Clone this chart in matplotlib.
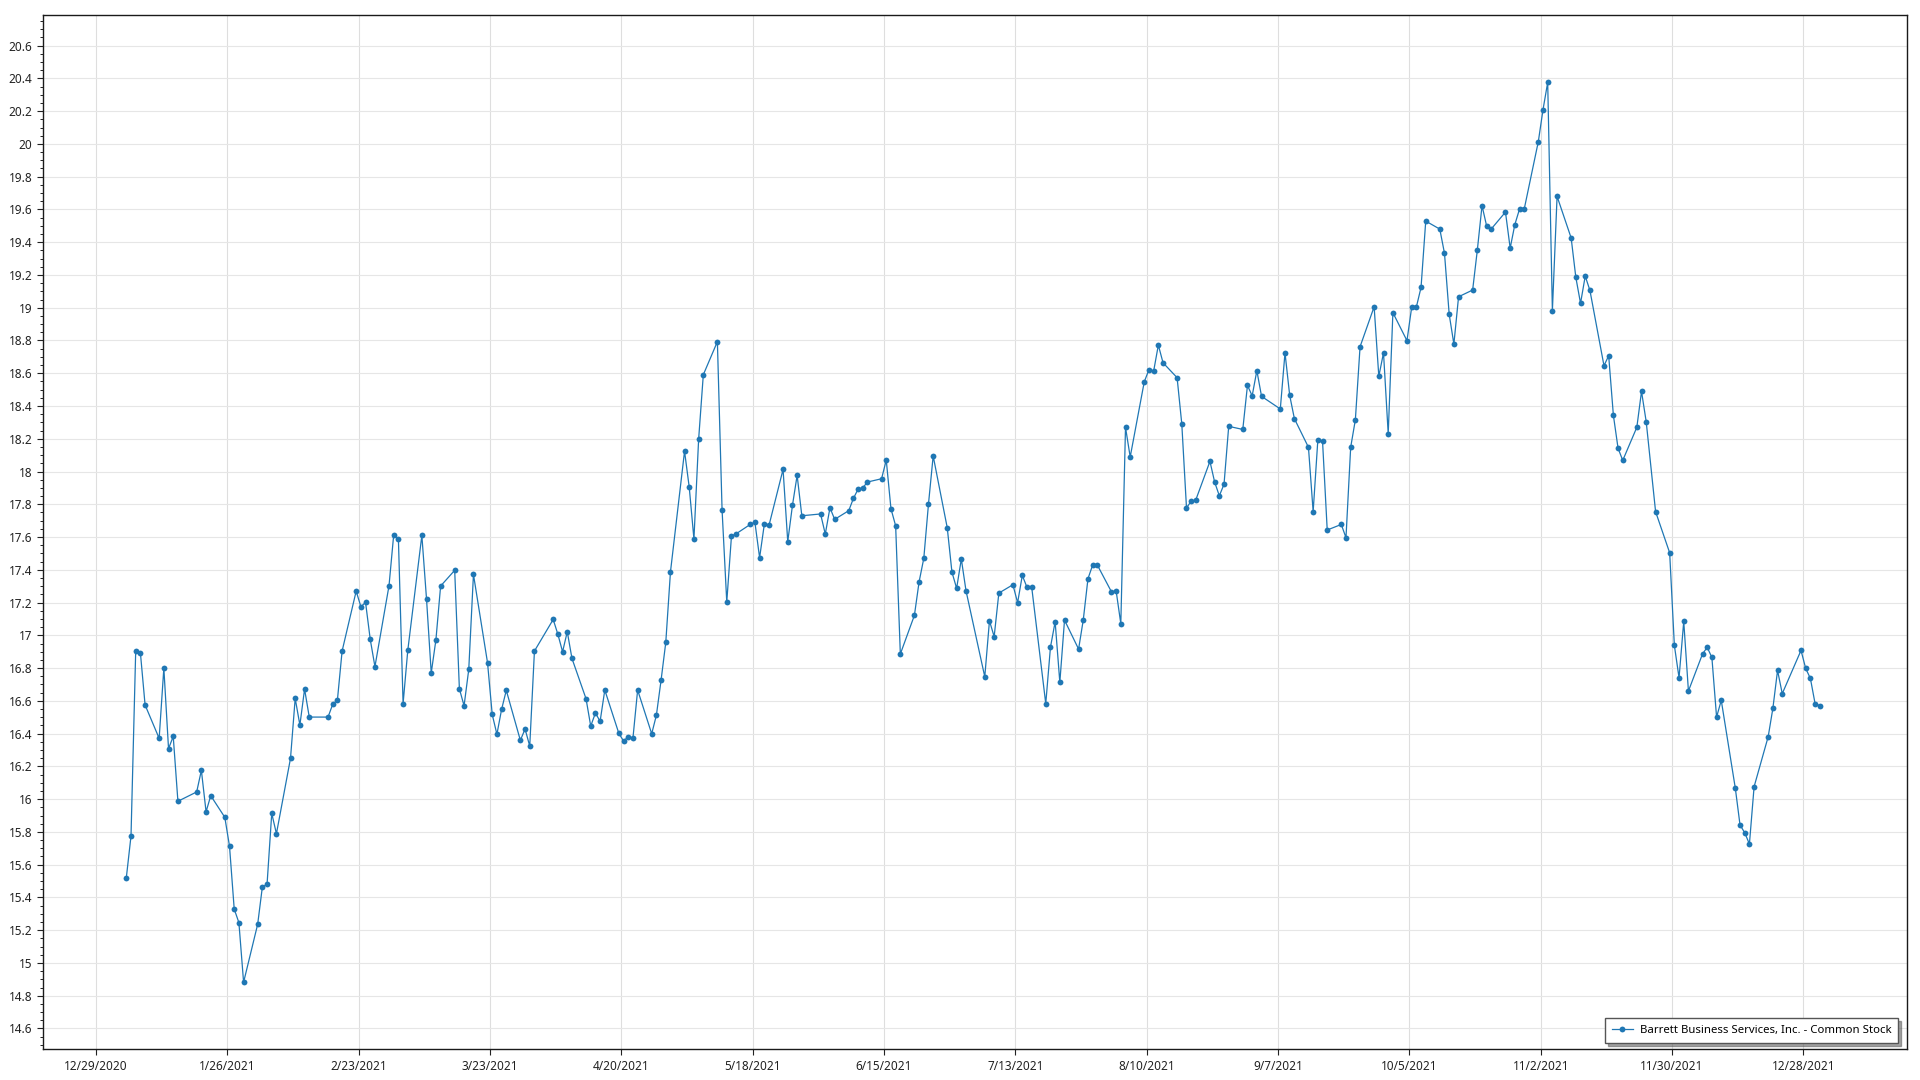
import pandas as pd
import matplotlib
matplotlib.use("Agg")
import matplotlib.pyplot as plt
import matplotlib.dates as mdates
from matplotlib.ticker import MultipleLocator, FuncFormatter

plt.rcParams['font.family'] = ['Noto Sans', 'DejaVu Sans']

# NYSE holidays in 2021 (no points on these days)
holidays = ['2021-01-01', '2021-01-18', '2021-02-15', '2021-04-02', '2021-05-31',
            '2021-07-05', '2021-09-06', '2021-11-25', '2021-12-24']
dates = pd.bdate_range('2021-01-04', '2021-12-31', freq='C', holidays=holidays)

# closing prices, one per trading day
closes = [
    # Jan
    15.52, 15.775, 16.904, 16.894, 16.575,
    16.371, 16.80, 16.308, 16.383, 15.987,
    16.044, 16.176, 15.923, 16.021,
    15.889, 15.712, 15.329, 15.246, 14.882,
    # Feb
    15.236, 15.464, 15.48, 15.913, 15.789,
    16.249, 16.615, 16.452, 16.672, 16.501,
    16.501, 16.579, 16.605, 16.904,
    17.27, 17.175, 17.201, 16.975, 16.809,
    # Mar
    17.303, 17.614, 17.59, 16.583, 16.908,
    17.61, 17.22, 16.77, 16.973, 17.301,
    17.397, 16.674, 16.570, 16.792, 17.372,
    16.833, 16.517, 16.396, 16.548, 16.664,
    16.359, 16.428, 16.324,
    # Apr
    16.904,
    17.097, 17.006, 16.90, 17.022, 16.859,
    16.613, 16.446, 16.526, 16.475, 16.666,
    16.401, 16.355, 16.381, 16.373, 16.666,
    16.399, 16.513, 16.727, 16.957, 17.388,
    # May
    18.124, 17.904, 17.588, 18.196, 18.591,
    18.793, 17.765, 17.203, 17.606, 17.62,
    17.677, 17.69, 17.474, 17.677, 17.671,
    18.013, 17.572, 17.793, 17.977, 17.73,
    # Jun
    17.741, 17.618, 17.779, 17.708,
    17.761, 17.836, 17.893, 17.901, 17.936,
    17.956, 18.07, 17.773, 17.669, 16.886,
    17.122, 17.327, 17.47, 17.802, 18.095,
    17.657, 17.386, 17.287,
    # Jul
    17.466, 17.272,
    16.747, 17.089, 16.992, 17.258,
    17.309, 17.199, 17.366, 17.293, 17.295,
    16.583, 16.927, 17.083, 16.713, 17.093,
    16.916, 17.095, 17.346, 17.429, 17.429,
    # Aug
    17.266, 17.272, 17.071, 18.27, 18.089,
    18.548, 18.622, 18.613, 18.772, 18.664,
    18.573, 18.29, 17.779, 17.818, 17.828,
    18.062, 17.936, 17.852, 17.922, 18.276,
    18.257, 18.526,
    # Sep
    18.462, 18.616, 18.459,
    18.382, 18.725, 18.465, 18.323,
    18.148, 17.755, 18.192, 18.186, 17.643,
    17.677, 17.596, 18.148, 18.316, 18.762,
    19.006, 18.581, 18.725, 18.231,
    # Oct
    18.97,
    18.799, 19.002, 19.004, 19.124, 19.529,
    19.48, 19.332, 18.96, 18.778, 19.067,
    19.108, 19.352, 19.623, 19.497, 19.482,
    19.584, 19.364, 19.508, 19.603, 19.603,
    # Nov
    20.014, 20.209, 20.376, 18.982, 19.68,
    19.426, 19.185, 19.027, 19.193, 19.106,
    18.646, 18.707, 18.344, 18.142, 18.068,
    18.27, 18.489, 18.304,
    17.755,
    17.504, 16.939,
    # Dec
    16.741, 17.085, 16.66,
    16.886, 16.927, 16.865, 16.501, 16.603,
    16.066, 15.842, 15.795, 15.726, 16.076,
    16.381, 16.554, 16.786, 16.644,
    16.908, 16.798, 16.737, 16.583, 16.57,
]

series_label = "Barrett Business Services, Inc. - Common Stock"
x_ticks = pd.date_range('2020-12-29', periods=14, freq='28D')

# points sit half a day right of the date ticks in the original
x = dates + pd.Timedelta(hours=12)

fig = plt.figure(figsize=(19.2, 10.8), dpi=100)
ax = fig.add_axes([0.0223, 0.0283, 0.9707, 0.9581])

blue = '#1f77b4'
ax.plot(x, closes, color=blue, linewidth=0.9, marker='o', markersize=4.2,
        markeredgewidth=0, label=series_label, zorder=3)

origin = mdates.date2num(pd.Timestamp('2020-12-29'))
ax.set_xlim(origin - 11.3, origin + 386.0)
ax.set_ylim(14.472, 20.789)

ax.set_xticks(x_ticks)
ax.xaxis.set_major_formatter(FuncFormatter(
    lambda v, pos: (lambda d: f"{d.month}/{d.day}/{d.year}")(mdates.num2date(v))))
ax.yaxis.set_major_locator(MultipleLocator(0.2))
ax.yaxis.set_minor_locator(MultipleLocator(0.05))
ax.yaxis.set_major_formatter(FuncFormatter(lambda v, pos: f"{round(v, 1):g}"))

ax.grid(True, which='major', axis='y', color='#e6e6e6', linewidth=0.8)
ax.grid(True, which='major', axis='x', color='#dedede', linewidth=0.8)
ax.set_axisbelow(True)

ax.tick_params(axis='both', which='major', labelsize=8.5, colors='#222222', length=4, width=0.8)
ax.tick_params(axis='y', which='minor', length=2, width=0.7, colors='#222222')
for s in ax.spines.values():
    s.set_color('#1a1a1a')
    s.set_linewidth(1.0)

leg = ax.legend(loc='lower right', bbox_to_anchor=(0.9954, 0.0062), borderaxespad=0,
                fancybox=False, shadow=True, framealpha=1, edgecolor='#555555',
                fontsize=8.2, handlelength=1.8, handletextpad=0.6, borderpad=0.6)
leg.get_frame().set_linewidth(1.0)

fig.savefig('out.png', dpi=100)
